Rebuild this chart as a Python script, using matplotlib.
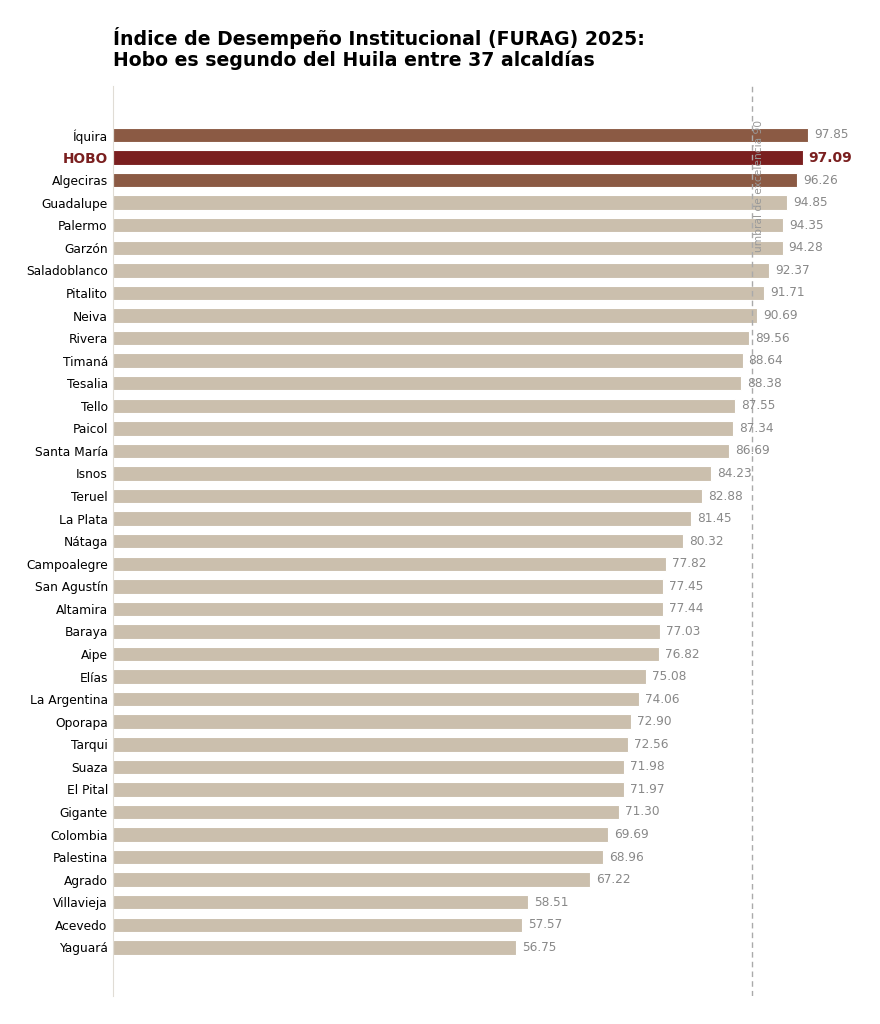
import matplotlib.pyplot as plt
import numpy as np

municipios = ["Íquira", "HOBO", "Algeciras", "Guadalupe", "Palermo", "Garzón",
              "Saladoblanco", "Pitalito", "Neiva", "Rivera", "Timaná", "Tesalia",
              "Tello", "Paicol", "Santa María", "Isnos", "Teruel", "La Plata",
              "Nátaga", "Campoalegre", "San Agustín", "Altamira", "Baraya", "Aipe",
              "Elías", "La Argentina", "Oporapa", "Tarqui", "Suaza", "El Pital",
              "Gigante", "Colombia", "Palestina", "Agrado", "Villavieja",
              "Acevedo", "Yaguará"]
puntajes = [97.85, 97.09, 96.26, 94.85, 94.35, 94.28, 92.37, 91.71, 90.69, 89.56,
            88.64, 88.38, 87.55, 87.34, 86.69, 84.23, 82.88, 81.45, 80.32, 77.82,
            77.45, 77.44, 77.03, 76.82, 75.08, 74.06, 72.90, 72.56, 71.98, 71.97,
            71.30, 69.69, 68.96, 67.22, 58.51, 57.57, 56.75]
umbral = 90

c_top = "#8B5A44"
c_hobo = "#7A1F1F"
c_resto = "#CBBFAD"

colores = []
for i, m in enumerate(municipios):
    if m == "HOBO":
        colores.append(c_hobo)
    elif i < 3:
        colores.append(c_top)
    else:
        colores.append(c_resto)

fig = plt.figure(figsize=(8.8, 10.24), dpi=100)
ax = fig.add_axes([0.128, 0.027, 0.852, 0.889])

y = np.arange(len(municipios))
ax.barh(y, puntajes, height=0.64, color=colores, edgecolor="white", linewidth=0.8)

for yi, v, m in zip(y, puntajes, municipios):
    if m == "HOBO":
        ax.text(v + 0.85, yi, f"{v:.2f}", va="center", ha="left",
                fontsize=10, fontweight="bold", color=c_hobo)
    else:
        ax.text(v + 0.85, yi, f"{v:.2f}", va="center", ha="left",
                fontsize=8.7, color="#888888")

ax.axvline(umbral, color="#aaaaaa", linestyle=(0, (4, 3)), linewidth=1)
ax.text(umbral + 0.3, -0.65, "umbral de excelencia 90", rotation=90,
        va="top", ha="left", fontsize=7.7, color="#999999")

ax.set_yticks(y)
ax.set_yticklabels(municipios, fontsize=8.8)
for lbl in ax.get_yticklabels():
    if lbl.get_text() == "HOBO":
        lbl.set_fontweight("bold")
        lbl.set_color(c_hobo)
        lbl.set_fontsize(9.9)
ax.tick_params(axis="y", length=0, pad=3.5)
ax.set_xticks([])
ax.set_xlim(0, 105.5)
ax.set_ylim(len(municipios) - 1 + 2.17, -2.17)

for s in ["top", "right", "bottom"]:
    ax.spines[s].set_visible(False)
ax.spines["left"].set_color("#e0dcd5")

fig.text(0.128, 0.932, "Índice de Desempeño Institucional (FURAG) 2025:\nHobo es segundo del Huila entre 37 alcaldías",
         fontsize=13.6, fontweight="bold", ha="left", va="bottom", linespacing=1.1)

plt.savefig("out.png", dpi=100)
